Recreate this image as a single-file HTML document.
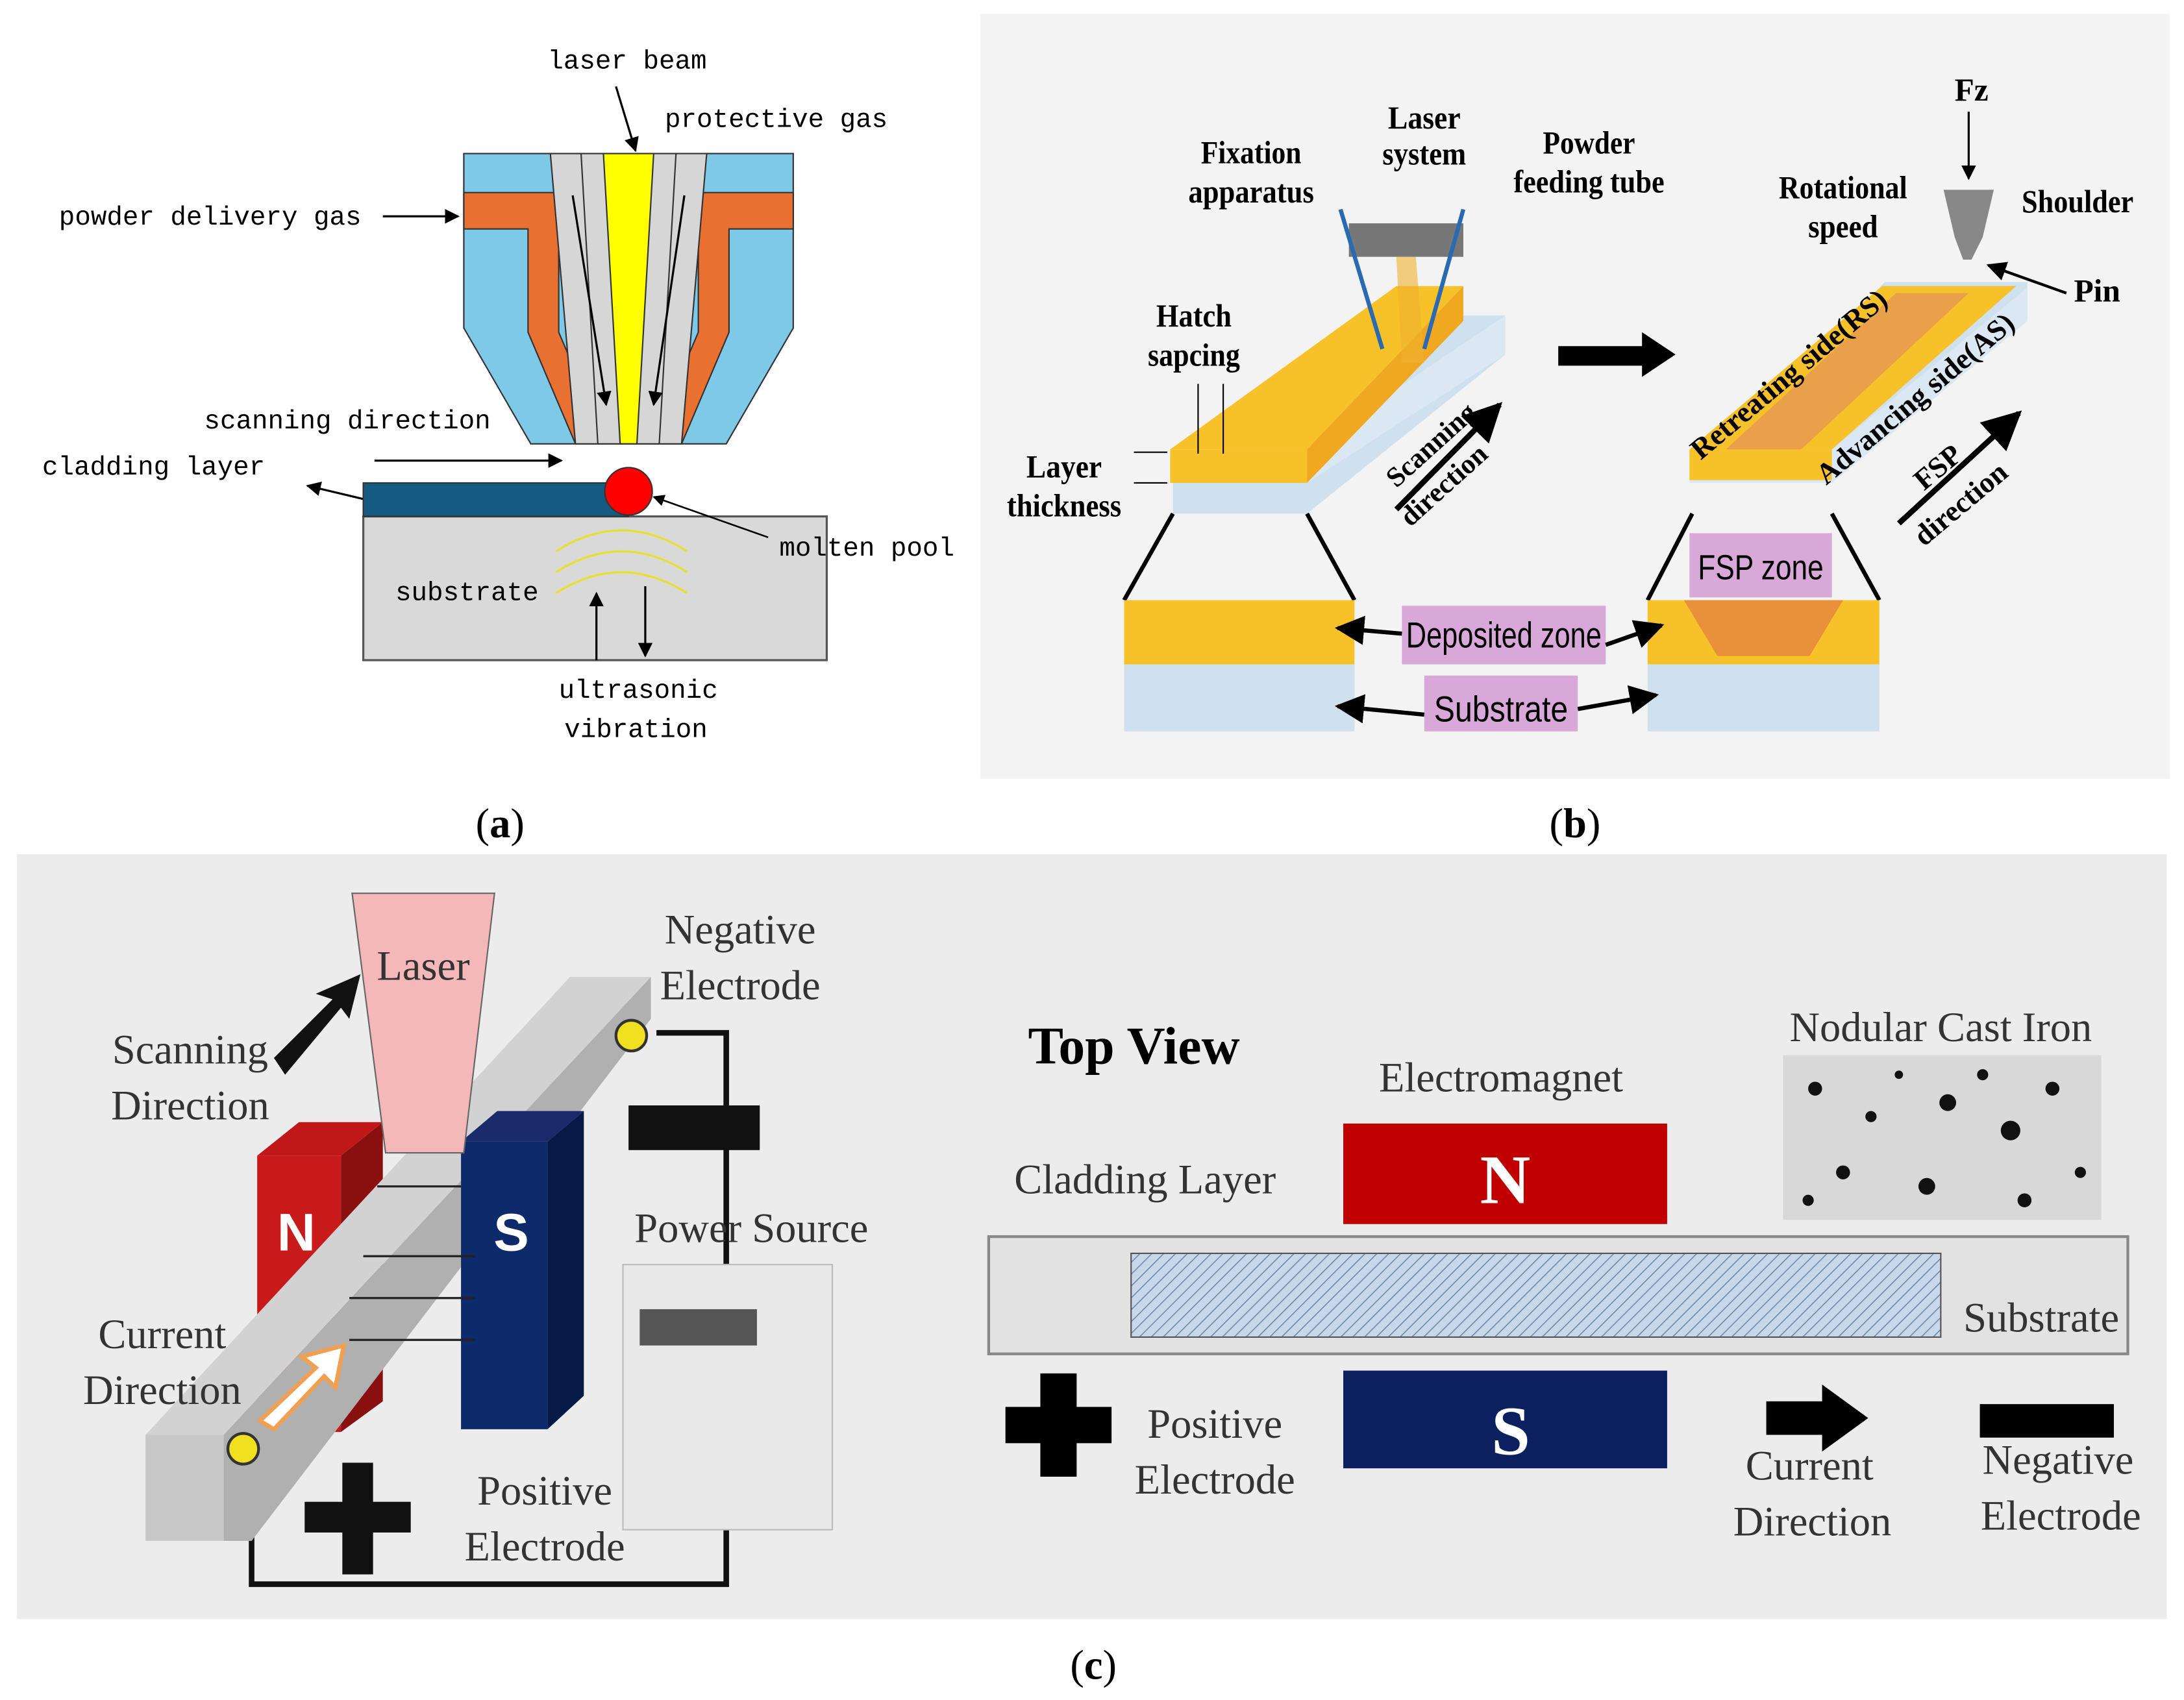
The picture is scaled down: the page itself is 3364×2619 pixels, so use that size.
<!DOCTYPE html>
<html><head><meta charset="utf-8"><style>html,body{margin:0;padding:0;background:#fff}svg{display:block}</style></head><body>
<svg width="3364" height="2619" viewBox="0 0 1564 1218" xmlns="http://www.w3.org/2000/svg">
<defs>
<marker id="ah" viewBox="0 0 10 10" refX="9" refY="5" markerWidth="7" markerHeight="7" orient="auto-start-reverse"><path d="M0,0L10,5L0,10z" fill="#000"/></marker>
<pattern id="hatch" width="6" height="6" patternUnits="userSpaceOnUse" patternTransform="rotate(45)"><rect width="6" height="6" fill="#c8d8ea"/><line x1="0" y1="0" x2="0" y2="6" stroke="#6f8aa8" stroke-width="1.5"/></pattern>
</defs>
<rect width="1564" height="1218" fill="#fff"/>
<!-- Panel a -->
<g font-family="Liberation Mono, monospace" font-size="19" fill="#000">
<polygon points="332,110 568,110 568,235 520,318 380,318 332,235" fill="#7ec8e8" stroke="#333" stroke-width="1"/>
<polygon points="332,138 568,138 568,164 522,164 522,238 488,318 466,318 500,238 500,164 400,164 400,238 434,318 412,318 378,238 378,164 332,164" fill="#e87030" stroke="#333" stroke-width="1"/>
<polygon points="394,110 506,110 488,318 412,318" fill="#d6d6d6" stroke="#333" stroke-width="1"/>
<line x1="416" y1="110" x2="428" y2="318" stroke="#333"/><line x1="484" y1="110" x2="472" y2="318" stroke="#333"/>
<polygon points="432,110 468,110 456,318 444,318" fill="#ffff00" stroke="#333" stroke-width="1"/>
<line x1="410" y1="140" x2="434" y2="290" stroke="#000" stroke-width="1.5" marker-end="url(#ah)"/>
<line x1="490" y1="140" x2="468" y2="290" stroke="#000" stroke-width="1.5" marker-end="url(#ah)"/>
<text x="392" y="49">laser beam</text>
<line x1="441" y1="62" x2="455" y2="108" stroke="#000" stroke-width="1.5" marker-end="url(#ah)"/>
<text x="476" y="91">protective gas</text>
<text x="42" y="161">powder delivery gas</text>
<line x1="274" y1="155" x2="328" y2="155" stroke="#000" stroke-width="1.5" marker-end="url(#ah)"/>
<text x="146" y="307">scanning direction</text>
<line x1="268" y1="330" x2="402" y2="330" stroke="#000" stroke-width="1.5" marker-end="url(#ah)"/>
<text x="30" y="340">cladding layer</text>
<line x1="262" y1="358" x2="220" y2="348" stroke="#000" stroke-width="1.5" marker-end="url(#ah)"/>
<rect x="260" y="370" width="332" height="103" fill="#d9d9d9" stroke="#555" stroke-width="1.5"/>
<rect x="260" y="346" width="190" height="24" fill="#155a80" stroke="#333"/>
<circle cx="450" cy="352" r="17" fill="#ff0000" stroke="#333"/>
<line x1="550" y1="385" x2="468" y2="356" stroke="#000" stroke-width="1.2" marker-end="url(#ah)"/>
<text x="558" y="398">molten pool</text>
<g fill="none" stroke="#e8e030" stroke-width="1.5"><path d="M398,395 Q445,365 492,395"/><path d="M398,410 Q445,380 492,410"/><path d="M398,425 Q445,395 492,425"/></g>
<text x="283" y="430">substrate</text>
<line x1="427" y1="473" x2="427" y2="425" stroke="#000" stroke-width="1.5" marker-end="url(#ah)"/>
<line x1="462" y1="420" x2="462" y2="470" stroke="#000" stroke-width="1.5" marker-end="url(#ah)"/>
<text x="400" y="500">ultrasonic</text><text x="404" y="528">vibration</text>
</g>
<text x="358" y="600" font-family="Liberation Serif, serif" font-size="30" text-anchor="middle">(<tspan font-weight="bold">a</tspan>)</text>
<text x="1128" y="600" font-family="Liberation Serif, serif" font-size="30" text-anchor="middle">(<tspan font-weight="bold">b</tspan>)</text>
<text x="783" y="1203" font-family="Liberation Serif, serif" font-size="30" text-anchor="middle">(<tspan font-weight="bold">c</tspan>)</text>
<!-- Panel b -->
<rect x="702" y="10" width="852" height="548" fill="#f3f3f3"/>
<g font-family="Liberation Serif, serif" font-size="23" font-weight="bold" fill="#000">
<polygon points="838,346 840,346 840,368 936,368 1078,254 1078,226 1040,226" fill="#cfe0ee"/>
<polygon points="838,322 936,322 1078,226 1078,254 936,346 838,346" fill="#dbe7f2"/>
<polygon points="838,322 1000,205 1048,205 936,322" fill="#f7c12a"/>
<polygon points="838,322 936,322 936,346 838,346" fill="#f7c12a"/>
<polygon points="936,322 1048,205 1048,230 936,346" fill="#f0a820"/>
<rect x="966" y="160" width="82" height="24" fill="#777"/>
<polygon points="1000,184 1014,184 1020,260 1004,260" fill="#f0b030" opacity=".6"/>
<line x1="960" y1="150" x2="990" y2="250" stroke="#2a6ab0" stroke-width="3"/><line x1="1048" y1="150" x2="1020" y2="250" stroke="#2a6ab0" stroke-width="3"/>
<text x="896" y="117" text-anchor="middle" textLength="72" lengthAdjust="spacingAndGlyphs">Fixation</text><text x="896" y="145" text-anchor="middle" textLength="90" lengthAdjust="spacingAndGlyphs">apparatus</text>
<text x="1020" y="92" text-anchor="middle" textLength="52" lengthAdjust="spacingAndGlyphs">Laser</text><text x="1020" y="118" text-anchor="middle" textLength="60" lengthAdjust="spacingAndGlyphs">system</text>
<text x="1138" y="110" text-anchor="middle" textLength="66" lengthAdjust="spacingAndGlyphs">Powder</text><text x="1138" y="138" text-anchor="middle" textLength="108" lengthAdjust="spacingAndGlyphs">feeding tube</text>
<text x="855" y="234" text-anchor="middle" textLength="54" lengthAdjust="spacingAndGlyphs">Hatch</text><text x="855" y="262" text-anchor="middle" textLength="66" lengthAdjust="spacingAndGlyphs">sapcing</text>
<text x="762" y="342" text-anchor="middle" textLength="54" lengthAdjust="spacingAndGlyphs">Layer</text><text x="762" y="370" text-anchor="middle" textLength="82" lengthAdjust="spacingAndGlyphs">thickness</text>
<line x1="858" y1="275" x2="858" y2="325" stroke="#000"/><line x1="876" y1="275" x2="876" y2="325" stroke="#000"/>
<line x1="812" y1="324" x2="836" y2="324" stroke="#000"/><line x1="812" y1="346" x2="836" y2="346" stroke="#000"/>
<text transform="translate(1000,350) rotate(-42)" font-size="20">Scanning</text>
<text transform="translate(1010,378) rotate(-42)" font-size="20">direction</text>
<line x1="1000" y1="365" x2="1074" y2="290" stroke="#000" stroke-width="4" marker-end="url(#ah)"/>
<polygon points="1116,248 1176,248 1176,238 1200,254 1176,270 1176,262 1116,262" fill="#000"/>
<polygon points="1210,346 1312,346 1452,230 1452,202 1350,202" fill="#cfe0ee"/>
<polygon points="1210,322 1312,322 1452,206 1452,230 1312,346 1210,346" fill="#dbe7f2"/>
<polygon points="1210,322 1348,205 1444,205 1312,322" fill="#f7c12a"/>
<polygon points="1236,322 1290,322 1410,210 1358,210" fill="#e8a04a"/>
<rect x="1210" y="322" width="102" height="22" fill="#f7c12a"/>
<polygon points="1392,136 1428,136 1420,170 1412,186 1406,186 1400,170" fill="#888"/>
<text transform="translate(1218,330) rotate(-40)" font-size="21">Retreating side(RS)</text>
<text transform="translate(1308,348) rotate(-40)" font-size="21">Advancing side(AS)</text>
<text x="1412" y="72" text-anchor="middle">Fz</text>
<line x1="1410" y1="80" x2="1410" y2="128" stroke="#000" stroke-width="1.5" marker-end="url(#ah)"/>
<text x="1320" y="142" text-anchor="middle" textLength="92" lengthAdjust="spacingAndGlyphs">Rotational</text><text x="1320" y="170" text-anchor="middle" textLength="50" lengthAdjust="spacingAndGlyphs">speed</text>
<text x="1488" y="152" text-anchor="middle" textLength="80" lengthAdjust="spacingAndGlyphs">Shoulder</text>
<text x="1502" y="216" text-anchor="middle">Pin</text>
<line x1="1480" y1="210" x2="1424" y2="190" stroke="#000" stroke-width="2" marker-end="url(#ah)"/>
<text transform="translate(1378,352) rotate(-40)" font-size="21">FSP</text>
<text transform="translate(1378,392) rotate(-40)" font-size="21">direction</text>
<line x1="1360" y1="375" x2="1446" y2="296" stroke="#000" stroke-width="4" marker-end="url(#ah)"/>
<line x1="840" y1="368" x2="805" y2="430" stroke="#000" stroke-width="3"/><line x1="936" y1="368" x2="970" y2="430" stroke="#000" stroke-width="3"/>
<line x1="1212" y1="368" x2="1180" y2="430" stroke="#000" stroke-width="3"/><line x1="1312" y1="368" x2="1346" y2="430" stroke="#000" stroke-width="3"/>
<rect x="805" y="430" width="165" height="46" fill="#f7c12a"/><rect x="805" y="476" width="165" height="48" fill="#cfe0ee"/>
<rect x="1180" y="430" width="166" height="46" fill="#f7c12a"/><rect x="1180" y="476" width="166" height="48" fill="#cfe0ee"/>
<polygon points="1206,430 1320,430 1296,470 1230,470" fill="#e8903a"/>
<rect x="1210" y="382" width="102" height="46" fill="#d8a8d8"/>
<text x="1261" y="415" text-anchor="middle" font-weight="normal" font-family="Liberation Sans, sans-serif" font-size="25" textLength="90" lengthAdjust="spacingAndGlyphs">FSP zone</text>
<rect x="1004" y="434" width="146" height="42" fill="#d8a8d8"/>
<text x="1077" y="464" text-anchor="middle" font-weight="normal" font-family="Liberation Sans, sans-serif" font-size="26" textLength="140" lengthAdjust="spacingAndGlyphs">Deposited zone</text>
<rect x="1020" y="484" width="110" height="40" fill="#d8a8d8"/>
<text x="1075" y="517" text-anchor="middle" font-weight="normal" font-family="Liberation Sans, sans-serif" font-size="26" textLength="96" lengthAdjust="spacingAndGlyphs">Substrate</text>
<line x1="1004" y1="454" x2="958" y2="450" stroke="#000" stroke-width="3" marker-end="url(#ah)"/>
<line x1="1150" y1="462" x2="1190" y2="448" stroke="#000" stroke-width="3" marker-end="url(#ah)"/>
<line x1="1020" y1="512" x2="958" y2="506" stroke="#000" stroke-width="3" marker-end="url(#ah)"/>
<line x1="1130" y1="508" x2="1186" y2="498" stroke="#000" stroke-width="3" marker-end="url(#ah)"/>
</g>
<!-- Panel c -->
<rect x="12" y="612" width="1540" height="548" fill="#ececec"/>
<g font-family="Liberation Serif, serif" font-size="30" fill="#333">
<polyline points="470,740 520,740 520,1135 180,1135 180,1040" fill="none" stroke="#111" stroke-width="4"/>
<rect x="450" y="792" width="94" height="32" fill="#111"/>
<polygon points="184,828 214,804 274,804 244,828" fill="#c01818"/>
<rect x="184" y="828" width="60" height="198" fill="#c81a1a"/>
<polygon points="244,828 274,804 274,1004 244,1026" fill="#8a1010"/>
<text x="212" y="896" text-anchor="middle" fill="#fff" font-family="Liberation Sans, sans-serif" font-weight="bold" font-size="38">N</text>
<polygon points="104,1028 408,700 466,700 160,1028" fill="#d2d2d2"/>
<polygon points="160,1028 466,700 466,730 180,1104 160,1104" fill="#b0b0b0"/>
<rect x="104" y="1028" width="56" height="76" fill="#c8c8c8"/>
<polygon points="330,818 356,796 418,796 392,818" fill="#1a2a6a"/>
<rect x="330" y="818" width="62" height="206" fill="#0d2a6a"/>
<polygon points="392,818 418,796 418,1000 392,1024" fill="#061a48"/>
<text x="366" y="896" text-anchor="middle" fill="#fff" font-family="Liberation Sans, sans-serif" font-weight="bold" font-size="38">S</text>
<g stroke="#222" stroke-width="1.5"><line x1="270" y1="850" x2="330" y2="850"/><line x1="260" y1="900" x2="340" y2="900"/><line x1="250" y1="930" x2="340" y2="930"/><line x1="250" y1="960" x2="340" y2="960"/></g>
<polygon points="252,640 354,640 332,826 276,826" fill="#f4b8b8" stroke="#666"/>
<text x="303" y="702" text-anchor="middle">Laser</text>
<circle cx="452" cy="742" r="11" fill="#f0e020" stroke="#333" stroke-width="2"/>
<circle cx="174" cy="1038" r="11" fill="#f0e020" stroke="#333" stroke-width="2"/>
<polygon points="196,758 238,716 226,712 258,698 250,730 244,722 204,770" fill="#111"/>
<polygon points="186,1018 226,980 216,972 246,964 240,994 232,986 196,1024" fill="#fff" stroke="#f0a050" stroke-width="3"/>
<rect x="218" y="1076" width="76" height="22" fill="#111"/><rect x="245" y="1048" width="22" height="80" fill="#111"/>
<rect x="446" y="906" width="150" height="190" fill="#e8e8e8" stroke="#bbb"/>
<rect x="458" y="938" width="84" height="26" fill="#555"/>
<text x="530" y="676" text-anchor="middle">Negative</text><text x="530" y="716" text-anchor="middle">Electrode</text>
<text x="136" y="762" text-anchor="middle">Scanning</text><text x="136" y="802" text-anchor="middle">Direction</text>
<text x="538" y="890" text-anchor="middle">Power Source</text>
<text x="116" y="966" text-anchor="middle">Current</text><text x="116" y="1006" text-anchor="middle">Direction</text>
<text x="390" y="1078" text-anchor="middle">Positive</text><text x="390" y="1118" text-anchor="middle">Electrode</text>
<text x="812" y="762" text-anchor="middle" font-weight="bold" font-size="38" fill="#000">Top View</text>
<text x="1075" y="782" text-anchor="middle">Electromagnet</text>
<text x="1390" y="746" text-anchor="middle">Nodular Cast Iron</text>
<rect x="1277" y="756" width="228" height="118" fill="#d8d8d8"/>
<g fill="#111"><circle cx="1300" cy="780" r="5"/><circle cx="1340" cy="800" r="4"/><circle cx="1395" cy="790" r="6"/><circle cx="1440" cy="810" r="7"/><circle cx="1470" cy="780" r="5"/><circle cx="1320" cy="840" r="5"/><circle cx="1380" cy="850" r="6"/><circle cx="1450" cy="860" r="5"/><circle cx="1490" cy="840" r="4"/><circle cx="1420" cy="770" r="4"/><circle cx="1360" cy="770" r="3"/><circle cx="1295" cy="860" r="4"/></g>
<text x="820" y="855" text-anchor="middle">Cladding Layer</text>
<rect x="962" y="805" width="232" height="72" fill="#c00000"/>
<text x="1078" y="862" text-anchor="middle" fill="#fff" font-weight="bold" font-size="50">N</text>
<rect x="708" y="886" width="816" height="84" fill="#e2e2e2" stroke="#888" stroke-width="2"/>
<rect x="810" y="898" width="580" height="60" fill="url(#hatch)" stroke="#555"/>
<text x="1462" y="954" text-anchor="middle">Substrate</text>
<rect x="962" y="982" width="232" height="70" fill="#0c2060"/>
<text x="1082" y="1042" text-anchor="middle" fill="#fff" font-weight="bold" font-size="50">S</text>
<rect x="720" y="1008" width="76" height="26" fill="#000"/><rect x="745" y="984" width="26" height="74" fill="#000"/>
<text x="870" y="1030" text-anchor="middle">Positive</text><text x="870" y="1070" text-anchor="middle">Electrode</text>
<polygon points="1265,1004 1305,1004 1305,992 1338,1016 1305,1040 1305,1028 1265,1028" fill="#000"/>
<text x="1296" y="1060" text-anchor="middle">Current</text><text x="1298" y="1100" text-anchor="middle">Direction</text>
<rect x="1418" y="1006" width="96" height="24" fill="#000"/>
<text x="1474" y="1056" text-anchor="middle">Negative</text><text x="1476" y="1096" text-anchor="middle">Electrode</text>
</g>
</svg>
</body></html>
